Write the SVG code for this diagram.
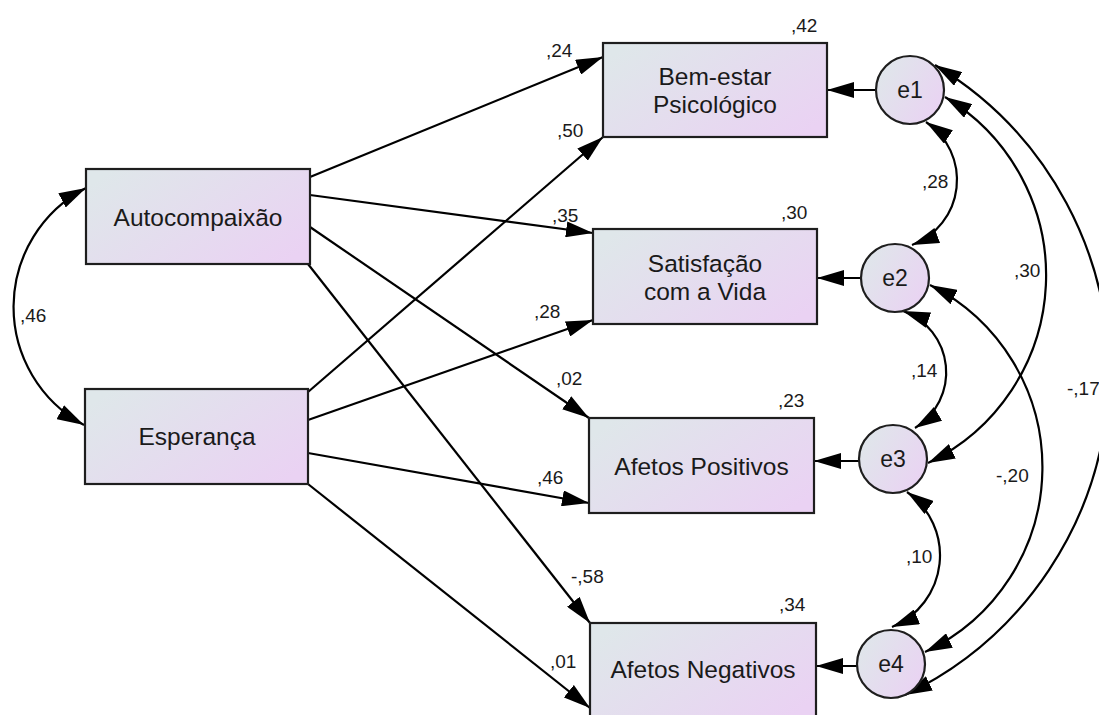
<svg xmlns="http://www.w3.org/2000/svg" width="1099" height="715" viewBox="0 0 1099 715">
<style>
.box{stroke:#1e1e1e;stroke-width:2.2;fill:url(#gr)}
.circ{stroke:#1e1e1e;stroke-width:2.2;fill:url(#gr)}
.lbl{font-family:"Liberation Sans",Arial,sans-serif;font-size:24.5px;fill:#1a1a1a;text-anchor:middle}
.elbl{font-family:"Liberation Sans",Arial,sans-serif;font-size:23px;fill:#1a1a1a;text-anchor:middle}
.num{font-family:"Liberation Sans",Arial,sans-serif;font-size:19px;fill:#1a1a1a}
.ln{stroke:#000;stroke-width:2.2;fill:none;marker-end:url(#ah)}
.cv{stroke:#000;stroke-width:2.2;fill:none;marker-end:url(#ah);marker-start:url(#ah)}
</style>
<defs>
<linearGradient id="gr" x1="0" y1="0.2" x2="1" y2="0.8">
<stop offset="0" stop-color="#dfe7ea"/>
<stop offset="1" stop-color="#ead2f3"/>
</linearGradient>
<marker id="ah" viewBox="0 0 27 16" refX="27" refY="8" markerWidth="27" markerHeight="16" markerUnits="userSpaceOnUse" orient="auto-start-reverse">
<path d="M0,0 L27,8 L0,16 z" fill="#000"/>
</marker>
</defs>
<rect width="1099" height="715" fill="#fff"/>

<g id="connectors">
<line class="ln" x1="310" y1="177" x2="603" y2="57"/>
<line class="ln" x1="310" y1="195" x2="593" y2="233"/>
<line class="ln" x1="310" y1="227" x2="589" y2="418"/>
<line class="ln" x1="308" y1="264" x2="590" y2="623"/>
<line class="ln" x1="308" y1="392" x2="603" y2="137"/>
<line class="ln" x1="308" y1="420" x2="593" y2="320"/>
<line class="ln" x1="308" y1="453" x2="589" y2="503"/>
<line class="ln" x1="308" y1="484" x2="590" y2="708"/>
<line class="ln" x1="876" y1="90" x2="827" y2="90"/>
<line class="ln" x1="861" y1="278" x2="817" y2="278"/>
<line class="ln" x1="859" y1="461" x2="814" y2="461"/>
<line class="ln" x1="857" y1="666" x2="816" y2="666"/>
<path class="cv" d="M86,188 A134,134 0 0 0 84,425"/>
<path class="cv" d="M926,122 A69.6,69.6 0 0 1 912,245"/>
<path class="cv" d="M903,311 A65.2,65.2 0 0 1 915,428"/>
<path class="cv" d="M907,492 A77.4,77.4 0 0 1 892,627"/>
<path class="cv" d="M945,97 A208,208 0 0 1 928,463"/>
<path class="cv" d="M930,285 A204,204 0 0 1 925,652"/>
<path class="cv" d="M935,65 A358,358 0 0 1 905,695"/>
<text class="num" x="546" y="57">,24</text>
<text class="num" x="552" y="222">,35</text>
<text class="num" x="556" y="385">,02</text>
<text class="num" x="571" y="583">-,58</text>
<text class="num" x="557" y="137">,50</text>
<text class="num" x="534" y="318">,28</text>
<text class="num" x="537" y="484">,46</text>
<text class="num" x="550" y="668">,01</text>
<text class="num" x="20" y="322">,46</text>
<text class="num" x="922" y="188">,28</text>
<text class="num" x="911" y="377">,14</text>
<text class="num" x="906" y="563">,10</text>
<text class="num" x="1014" y="277">,30</text>
<text class="num" x="996" y="482">-,20</text>
<text class="num" x="1067" y="395">-,17</text>
</g>

<g id="autocompaixao">
<rect class="box" x="86" y="169" width="224" height="95"/>
<text class="lbl" x="198" y="226">Autocompaixão</text>
</g>
<g id="esperanca">
<rect class="box" x="85" y="389" width="223" height="95"/>
<text class="lbl" x="197" y="445">Esperança</text>
</g>
<g id="bemestar">
<rect class="box" x="603" y="43" width="224" height="94"/>
<text class="lbl" x="715" y="85">Bem-estar</text>
<text class="lbl" x="715" y="113">Psicológico</text>
<text class="num" x="791" y="32">,42</text>
</g>
<g id="satisfacao">
<rect class="box" x="593" y="229" width="224" height="95"/>
<text class="lbl" x="705" y="272">Satisfação</text>
<text class="lbl" x="705" y="300">com a Vida</text>
<text class="num" x="781" y="219">,30</text>
</g>
<g id="afetospositivos">
<rect class="box" x="589" y="418" width="225" height="95"/>
<text class="lbl" x="701.5" y="475">Afetos Positivos</text>
<text class="num" x="778" y="407">,23</text>
</g>
<g id="afetosnegativos">
<rect class="box" x="590" y="623" width="226" height="95"/>
<text class="lbl" x="703" y="678">Afetos Negativos</text>
<text class="num" x="779" y="611">,34</text>
</g>
<g id="e1">
<circle class="circ" cx="910" cy="90" r="34"/>
<text class="elbl" x="910" y="98">e1</text>
</g>
<g id="e2">
<circle class="circ" cx="895" cy="278" r="34"/>
<text class="elbl" x="895" y="286">e2</text>
</g>
<g id="e3">
<circle class="circ" cx="893" cy="459" r="34"/>
<text class="elbl" x="893" y="467">e3</text>
</g>
<g id="e4">
<circle class="circ" cx="891" cy="664" r="34"/>
<text class="elbl" x="891" y="672">e4</text>
</g>
</svg>
